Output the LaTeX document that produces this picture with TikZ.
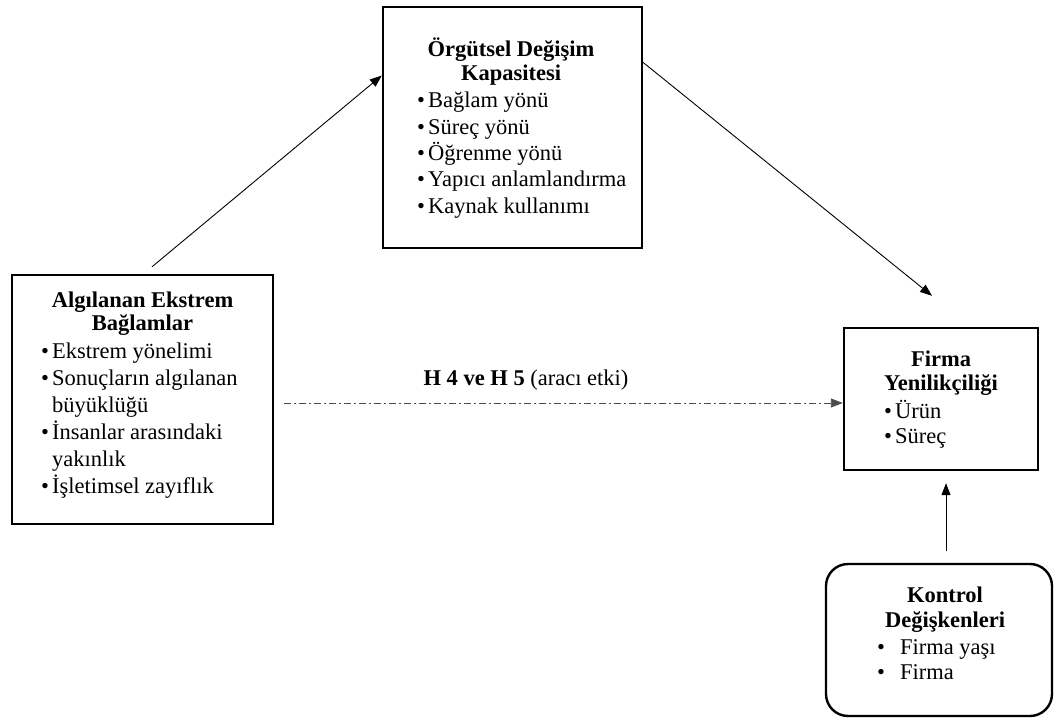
\documentclass[tikz,border=0pt]{standalone}
\usepackage{fontspec}
\setmainfont{Liberation Serif}
\usetikzlibrary{arrows.meta}
\begin{document}
\begin{tikzpicture}[x=1pt,y=-1pt,
  box/.style={draw, line width=2.4pt, inner sep=0pt},
  conn/.style={line width=0.9pt, -{Triangle[length=12pt,width=9pt]}},
  medi/.style={line width=0.9pt, gray!60!black, dash pattern=on 7pt off 3pt on 2pt off 3pt, -{Triangle[length=12pt,width=9pt]}},
  txt/.style={inner sep=0pt, font=\fontsize{22.5}{27}\selectfont},
  txtb/.style={inner sep=0pt, font=\fontsize{22.5}{26.3}\selectfont}]
\useasboundingbox (0,0) rectangle (1057,719);
% boxes
\node[box, minimum width=261pt, minimum height=249pt] (L) at (142.5,399.5) {};
\node[box, minimum width=259pt, minimum height=241pt] (O) at (512.5,127.5) {};
\node[box, minimum width=194pt, minimum height=142pt] (F) at (941,399) {};
\node[box, rounded corners=22pt, minimum width=226pt, minimum height=152pt] (K) at (939,640) {};
% left box text
\node[txt, anchor=base] (Lt) at (142.5,307) {\begin{tabular}[t]{@{}c@{}}\bfseries Algılanan Ekstrem\\[-3pt]\bfseries Bağlamlar\end{tabular}};
\node[txt, anchor=base west] (Ll) at (41,358) {\begin{tabular}[t]{@{}l@{\hspace{3pt}}l@{}}•&Ekstrem yönelimi\\ •&Sonuçların algılanan\\ &büyüklüğü\\ •&İnsanlar arasındaki\\ &yakınlık\\ •&İşletimsel zayıflık\end{tabular}};
% top box text
\node[txtb, anchor=base] (Ot) at (511,57) {\begin{tabular}[t]{@{}c@{}}\bfseries Örgütsel Değişim\\[-3pt]\bfseries Kapasitesi\end{tabular}};
\node[txtb, anchor=base west] (Ol) at (417,108) {\begin{tabular}[t]{@{}l@{\hspace{3pt}}l@{}}•&Bağlam yönü\\ •&Süreç yönü\\ •&Öğrenme yönü\\ •&Yapıcı anlamlandırma\\ •&Kaynak kullanımı\end{tabular}};
% firma box text
\node[txt, anchor=base] (Ft) at (941,366) {\begin{tabular}[t]{@{}c@{}}\bfseries Firma\\[-3pt]\bfseries Yenilikçiliği\end{tabular}};
\node[txt, anchor=base west] (Fl) at (884,418) {\begin{tabular}[t]{@{}l@{\hspace{3pt}}l@{}}•&Ürün\\[-2pt] •&Süreç\end{tabular}};
% kontrol box text
\node[txt, anchor=base] (Kt) at (945,602) {\begin{tabular}[t]{@{}c@{}}\bfseries Kontrol\\[-2pt]\bfseries Değişkenleri\end{tabular}};
\node[txt, anchor=base west] (Kl) at (877,654) {\begin{tabular}[t]{@{}l@{\hspace{15pt}}l@{}}•&Firma yaşı\\[-2pt] •&Firma\end{tabular}};
% label
\node[txt, anchor=base] (H) at (526,385) {\textbf{H 4 ve H 5} (aracı etki)};
% connectors
\draw[conn] ([xshift=9.5pt,yshift=7pt]L.north) -- ([yshift=52pt]O.west);
\draw[conn] ([yshift=65pt]O.east) -- ([xshift=-9pt,yshift=31pt]F.north);
\draw[medi] ([xshift=10pt,yshift=-3.5pt]L.east) -- ([yshift=-4pt]F.west);
\draw[conn] ([xshift=7pt,yshift=12pt]K.north) -- ([xshift=5pt,yshift=-12pt]F.south);
\end{tikzpicture}
\end{document}
